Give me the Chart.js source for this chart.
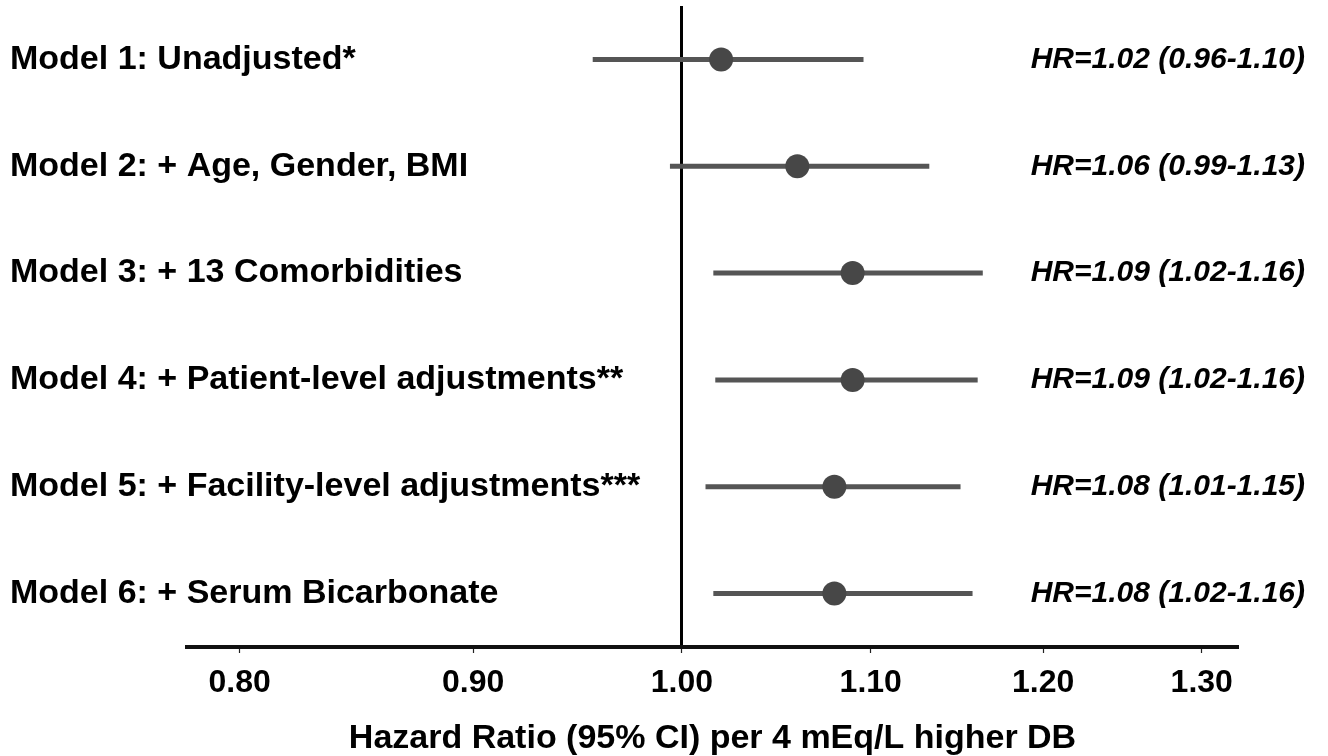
<!DOCTYPE html>
<html>
<head>
<meta charset="utf-8">
<script src="https://cdn.jsdelivr.net/npm/chart.js@4/dist/chart.umd.min.js"></script>
<style>
  body { margin: 0; background: #fff; }
  canvas { display: block; }
</style>
</head>
<body>
<canvas id="chartForest" width="1328" height="756"></canvas>
<script>
// dados do forest plot
const models = [
    'Model 1: Unadjusted*',
    'Model 2: + Age, Gender, BMI',
    'Model 3: + 13 Comorbidities',
    'Model 4: + Patient-level adjustments**',
    'Model 5: + Facility-level adjustments***',
    'Model 6: + Serum Bicarbonate'
];
const hrLabels = [
    'HR=1.02 (0.96-1.10)',
    'HR=1.06 (0.99-1.13)',
    'HR=1.09 (1.02-1.16)',
    'HR=1.09 (1.02-1.16)',
    'HR=1.08 (1.01-1.15)',
    'HR=1.08 (1.02-1.16)'
];
const hr = [1.02, 1.06, 1.09, 1.09, 1.08, 1.08];
const ciLow = [0.956, 0.994, 1.016, 1.017, 1.012, 1.016];
const ciHigh = [1.096, 1.133, 1.164, 1.161, 1.151, 1.158];
const xTicks = [0.80, 0.90, 1.00, 1.10, 1.20, 1.30];

const FONT = "'Liberation Sans', Arial, sans-serif";

// pontos primeiro = desenhados por cima das linhas
const datasets = [{
    data: models.map((m, i) => ({ x: hr[i], y: m })),
    showLine: false,
    pointRadius: 12,
    pointHoverRadius: 12,
    backgroundColor: '#474747',
    borderWidth: 0
}];
models.forEach((m, i) => {
    datasets.push({
        data: [{ x: ciLow[i], y: m }, { x: ciHigh[i], y: m }],
        showLine: true,
        borderColor: '#555555',
        borderWidth: 5,
        borderCapStyle: 'butt',
        pointRadius: 0
    });
});

new Chart(document.getElementById('chartForest'), {
    type: 'scatter',
    data: { datasets },
    options: {
        responsive: false,
        animation: false,
        layout: { autoPadding: false, padding: { left: 10, right: 23, top: 6, bottom: 0 } },
        plugins: { legend: { display: false }, tooltip: { enabled: false } },
        scales: {
            x: {
                type: 'logarithmic',
                min: 0.779,
                max: 1.324,
                afterBuildTicks: (s) => { s.ticks = xTicks.map(v => ({ value: v })); },
                afterFit: (s) => { s.height = 109; s.paddingLeft = 0; s.paddingRight = 0; },
                border: { display: true, color: '#111', width: 4 },
                grid: {
                    color: (c) => (c.tick && c.tick.value === 1 ? '#000' : 'rgba(0,0,0,0)'),
                    lineWidth: (c) => (c.tick && c.tick.value === 1 ? 3 : 1),
                    tickColor: '#222',
                    tickLength: 6,
                    tickWidth: 1.2
                },
                ticks: {
                    padding: 11,
                    color: '#000',
                    font: { family: FONT, size: 32, weight: 'bold' },
                    callback: (v) => Number(v).toFixed(2)
                },
                title: {
                    display: true,
                    text: 'Hazard Ratio (95% CI) per 4 mEq/L higher DB',
                    color: '#000',
                    font: { family: FONT, size: 34, weight: 'bold', lineHeight: 1.0 },
                    padding: { top: 0, bottom: 0 }
                }
            },
            // rótulos espelhados para não serem cortados pela área do eixo
            y: {
                type: 'category',
                labels: models,
                offset: true,
                afterFit: (s) => { s.width = 177; s.paddingTop = 0; s.paddingBottom = 0; },
                grid: { display: false },
                border: { display: false },
                ticks: {
                    mirror: true,
                    crossAlign: 'near',
                    autoSkip: false,
                    padding: -177,
                    color: '#000',
                    font: { family: FONT, size: 34, weight: 'bold' }
                }
            },
            y2: {
                type: 'category',
                position: 'right',
                labels: hrLabels,
                offset: true,
                afterFit: (s) => { s.width = 67; s.paddingTop = 0; s.paddingBottom = 0; },
                grid: { display: false },
                border: { display: false },
                ticks: {
                    mirror: true,
                    crossAlign: 'near',
                    autoSkip: false,
                    padding: 67,
                    color: '#000',
                    font: { family: FONT, size: 30, weight: 'bold', style: 'italic' }
                }
            }
        }
    }
});
</script>
</body>
</html>
